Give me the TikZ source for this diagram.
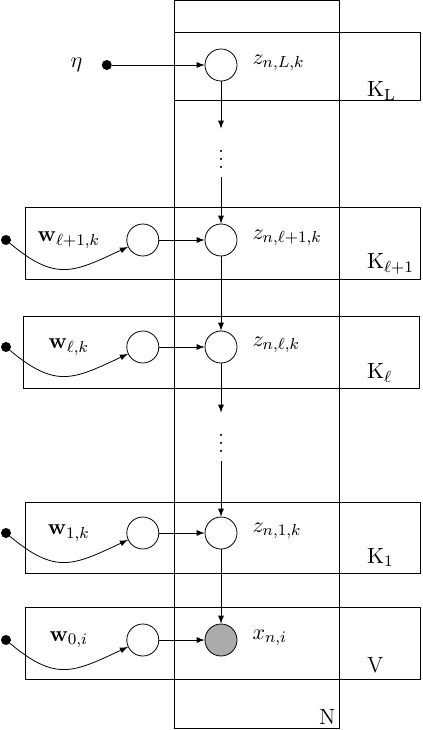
\documentclass[tikz,border=0pt]{standalone}
\usepackage{amsmath,amssymb}
\usetikzlibrary{arrows}
\usetikzlibrary{positioning}

\begin{document}
\begin{tikzpicture}
[x=0.7cm,y=0.7cm,font=\fontsize{11}{13.6}\selectfont,
  nodedecorate/.style={shape=circle,draw,fill=white,minimum size=0.56cm,inner sep=0pt},%
  obsdecorate/.style={nodedecorate,fill=black!33},%
  dotdecorate/.style={shape=circle,fill=black,minimum size=0.175cm,inner sep=0pt},%
  vdotsdecorate/.style={inner sep=0pt,minimum height=0.84cm},%
  linedecorate/.style={-latex},%
  curvedecorate/.style={-latex,out=-40,in=205,looseness=1.3}]
\useasboundingbox (0,0) rectangle (10.55,-18.25);
%% plates
\foreach \name/\xa/\ya/\xb/\yb/\lx/\ly/\lbl in {N/4.36/-0.015/8.48/-18.22/7.8/-18.12/N,
  KL/4.36/-0.81/10.52/-2.5/9.0/-2.425/{$\mathrm{K}_\mathrm{L}$},
  Klp/0.64/-5.18/10.52/-6.98/9.0/-6.72/{$\mathrm{K}_{\ell+1}$},
  Kl/0.58/-7.91/10.48/-9.71/9.0/-9.47/{$\mathrm{K}_{\ell}$},
  Kone/0.63/-12.56/10.52/-14.33/9.0/-14.08/{$\mathrm{K}_1$},
  V/0.63/-15.18/10.52/-16.98/9.0/-16.82/V}
{
  \draw (\xa,\ya) rectangle (\xb,\yb);
  \node (\name-lbl) [anchor=base west] at (\lx,\ly) {\lbl};
}
%% latent and observed variables
\foreach \name/\y/\kind/\lbl in {zL/-1.625/nodedecorate/{$z_{n,L,k}$},
  zlp/-6.0/nodedecorate/{$z_{n,\ell+1,k}$}, zl/-8.675/nodedecorate/{$z_{n,\ell,k}$},
  zone/-13.325/nodedecorate/{$z_{n,1,k}$}, x/-16.0/obsdecorate/{$x_{n,i}$}}
{
  \node (\name) at (5.525,\y) [\kind] {};
  \node (\name-lbl) [right=0.14cm,yshift=1pt] at (\name.east) {\lbl};
}
%% weights and their hyperparameters
\foreach \name/\y/\lbl in {wlp/-6.0/{$\mathbf{w}_{\ell+1,k}$}, wl/-8.675/{$\mathbf{w}_{\ell,k}$},
  wone/-13.325/{$\mathbf{w}_{1,k}$}, wzero/-16.0/{$\mathbf{w}_{0,i}$}}
{
  \node (\name) at (3.57,\y) [nodedecorate] {};
  \node (\name-lbl) at (1.72,\y) {\lbl};
  \node (h\name) at (0.15,\y) [dotdecorate] {};
}
\node (heta) at (2.67,-1.625) [dotdecorate] {};
\node (eta) [left=0.21cm] at (heta.west) {$\eta$};
\node (dtop) at (5.525,-3.825) [vdotsdecorate] {$\vdots$};
\node (dbot) at (5.525,-10.925) [vdotsdecorate] {$\vdots$};
%% edges
\path
\foreach \startnode/\endnode in {heta/zL, zL/dtop, dtop/zlp, zlp/zl, zl/dbot,
  dbot/zone, zone/x, wlp/zlp, wl/zl, wone/zone, wzero/x}
{
  (\startnode) edge[linedecorate] (\endnode)
};
\path
\foreach \startnode/\endnode in {hwlp/wlp, hwl/wl, hwone/wone, hwzero/wzero}
{
  (\startnode) edge[curvedecorate] (\endnode)
};
\end{tikzpicture}
\end{document}
